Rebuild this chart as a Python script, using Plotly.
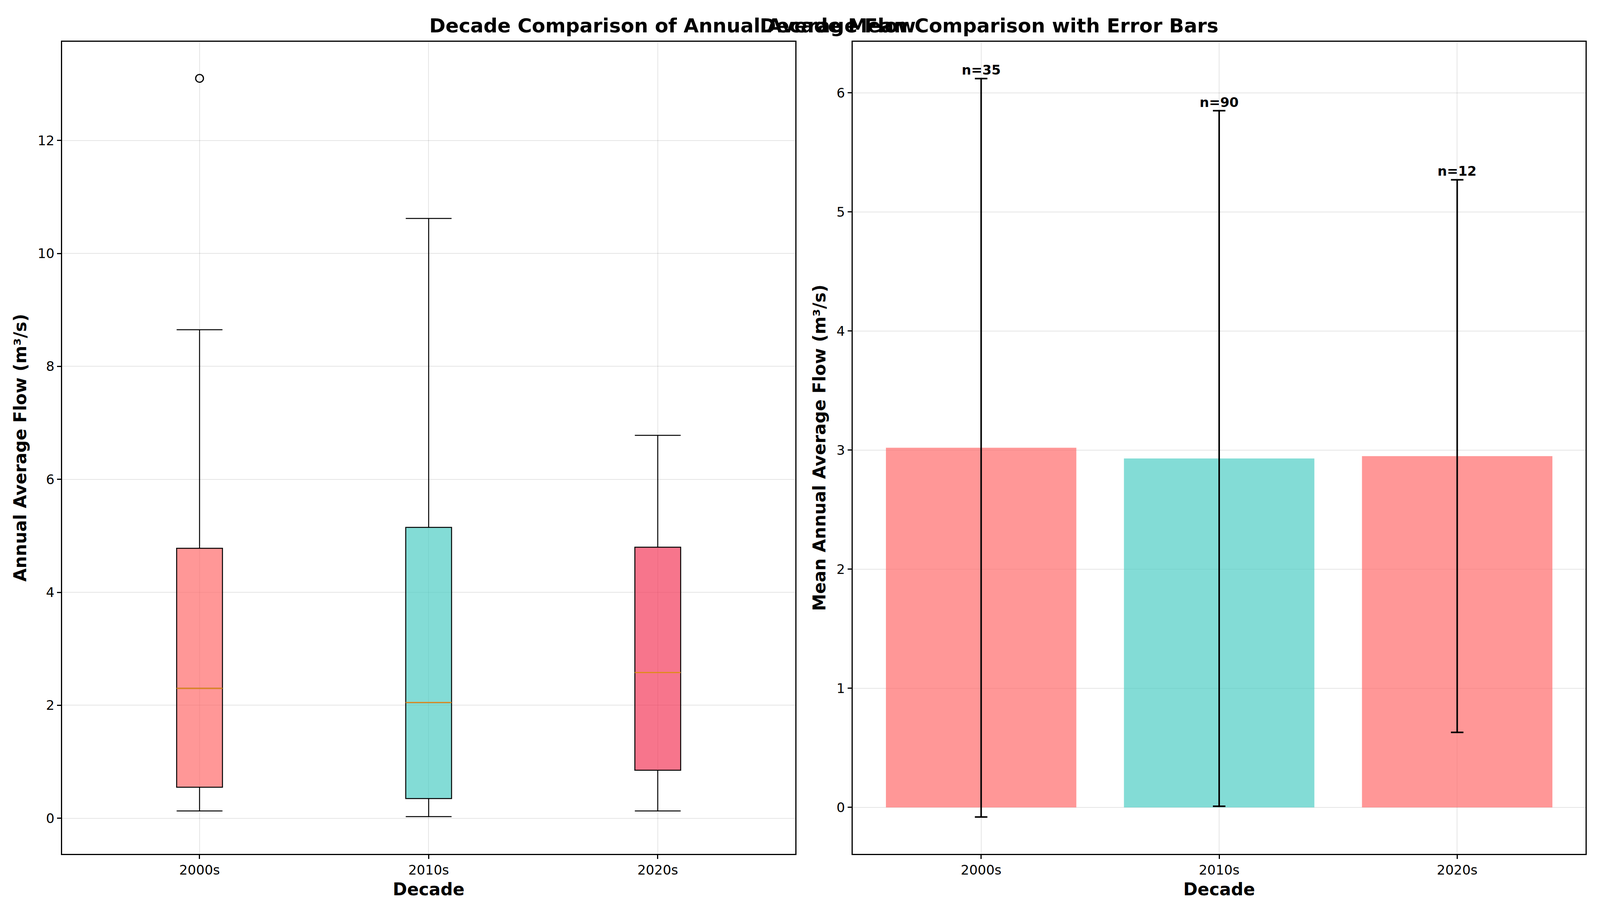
import plotly.graph_objects as go

decades = ["2000s", "2010s", "2020s"]
pos = [1, 2, 3]

# box stats
q1 = [0.55, 0.35, 0.85]
median = [2.30, 2.05, 2.58]
q3 = [4.78, 5.15, 4.80]
low = [0.13, 0.03, 0.13]
high = [8.65, 10.62, 6.78]
outlier_x = [1]
outlier_y = [13.1]

# bar stats
means = [3.02, 2.93, 2.95]
stds = [3.10, 2.92, 2.32]
counts = [35, 90, 12]

box_colors = ["rgba(255,107,107,0.7)", "rgba(78,205,196,0.7)", "rgba(244,59,91,0.7)"]
bar_colors = ["rgba(255,107,107,0.7)", "rgba(78,205,196,0.7)", "rgba(255,107,107,0.7)"]

fig = go.Figure()

for i in range(3):
    fig.add_trace(go.Box(
        x=[pos[i]], q1=[q1[i]], median=[median[i]], q3=[q3[i]],
        lowerfence=[low[i]], upperfence=[high[i]],
        fillcolor=box_colors[i], line=dict(color="black", width=2.5),
        width=0.2, whiskerwidth=1, showlegend=False,
        xaxis="x", yaxis="y"))
    fig.add_trace(go.Scatter(
        x=[pos[i] - 0.1, pos[i] + 0.1], y=[median[i], median[i]],
        mode="lines", line=dict(color="#E08A1E", width=3),
        showlegend=False, xaxis="x", yaxis="y"))

fig.add_trace(go.Scatter(
    x=outlier_x, y=outlier_y, mode="markers",
    marker=dict(symbol="circle-open", size=20, color="black", line=dict(width=3)),
    showlegend=False, xaxis="x", yaxis="y"))

fig.add_trace(go.Bar(
    x=pos, y=means, marker=dict(color=bar_colors, line=dict(width=0)),
    width=0.8, showlegend=False, xaxis="x2", yaxis="y2"))
fig.add_trace(go.Scatter(
    x=pos, y=means, mode="markers", marker=dict(size=1, color="rgba(0,0,0,0)"),
    error_y=dict(type="data", array=stds, color="black", thickness=4, width=16),
    showlegend=False, xaxis="x2", yaxis="y2"))

for i in range(3):
    fig.add_annotation(x=pos[i], y=means[i] + stds[i], text=f"<b>n={counts[i]}</b>",
                       xref="x2", yref="y2", showarrow=False, yanchor="bottom",
                       font=dict(size=34, color="black"))

axis_common = dict(showline=True, linecolor="black", linewidth=2.5, mirror=True,
                   showgrid=True, gridcolor="rgba(0,0,0,0.1)", gridwidth=2,
                   ticks="outside", ticklen=10, tickwidth=2.5, tickcolor="black",
                   tickfont=dict(size=34, color="black"), zeroline=False)

fig.update_layout(
    autosize=True, plot_bgcolor="white", paper_bgcolor="white",
    font=dict(family="DejaVu Sans", color="black"),
    margin=dict(l=0, r=0, t=0, b=0),
    xaxis=dict(axis_common, domain=[0.037, 0.497], range=[0.4, 3.6],
               tickvals=pos, ticktext=decades,
               title=dict(text="<b>Decade</b>", font=dict(size=44))),
    yaxis=dict(axis_common, domain=[0.072, 0.958], range=[-0.63, 13.75],
               dtick=2, title=dict(text="<b>Annual Average Flow (m³/s)</b>", font=dict(size=44))),
    xaxis2=dict(axis_common, domain=[0.533, 0.993], range=[0.46, 3.54],
                tickvals=pos, ticktext=decades, anchor="y2",
                title=dict(text="<b>Decade</b>", font=dict(size=44))),
    yaxis2=dict(axis_common, domain=[0.072, 0.958], range=[-0.39, 6.43],
                dtick=1, anchor="x2",
                title=dict(text="<b>Mean Annual Average Flow (m³/s)</b>", font=dict(size=44))),
)

fig.add_annotation(x=0.267, y=0.962, xref="paper", yref="paper", yanchor="bottom",
                   showarrow=False, text="<b>Decade Comparison of Annual Average Flow</b>",
                   font=dict(size=50))
fig.add_annotation(x=0.763, y=0.962, xref="paper", yref="paper", yanchor="bottom",
                   showarrow=False, text="<b>Decade Mean Comparison with Error Bars</b>",
                   font=dict(size=50))

fig.write_html("out.html", default_width="100%", default_height="100%")
